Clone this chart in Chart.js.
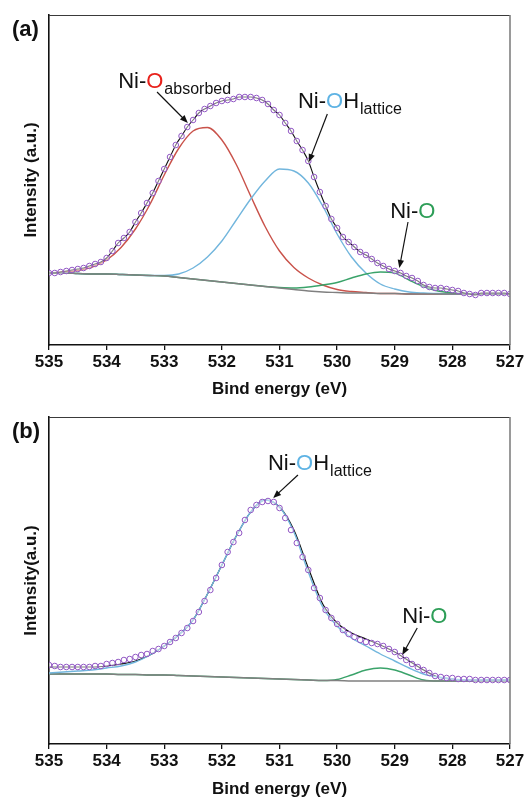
<!DOCTYPE html>
<html>
<head>
<meta charset="utf-8">
<script src="https://cdn.jsdelivr.net/npm/chart.js@4.4.0/dist/chart.umd.min.js"></script>
<style>
  html, body { margin: 0; padding: 0; background: #fff; }
  canvas { display: block; }
</style>
</head>
<body>
<canvas id="xpsA" width="530" height="400"></canvas>
<canvas id="xpsB" width="530" height="405"></canvas>
<script>
// binding energy grids (eV)
const energyTicks = [535, 534, 533, 532, 531, 530, 529, 528, 527];
const energyFine = [535.0, 534.9, 534.8, 534.7, 534.6, 534.5, 534.4, 534.3, 534.2, 534.1,
  534.0, 533.9, 533.8, 533.7, 533.6, 533.5, 533.4, 533.3, 533.2, 533.1,
  533.0, 532.9, 532.8, 532.7, 532.6, 532.5, 532.4, 532.3, 532.2, 532.1,
  532.0, 531.9, 531.8, 531.7, 531.6, 531.5, 531.4, 531.3, 531.2, 531.1,
  531.0, 530.9, 530.8, 530.7, 530.6, 530.5, 530.4, 530.3, 530.2, 530.1,
  530.0, 529.9, 529.8, 529.7, 529.6, 529.5, 529.4, 529.3, 529.2, 529.1,
  529.0, 528.9, 528.8, 528.7, 528.6, 528.5, 528.4, 528.3, 528.2, 528.1,
  528.0, 527.9, 527.8, 527.7, 527.6, 527.5, 527.4, 527.3, 527.2, 527.1,
  527.0];
const energyCoarse = [535, 534.75, 534.5, 534.25, 534, 533.75, 533.5, 533.25, 533, 532.75,
  532.5, 532.25, 532, 531.75, 531.5, 531.25, 531, 530.75, 530.5, 530.25,
  530, 529.75, 529.5, 529.25, 529, 528.75, 528.5, 528.25, 528, 527.75,
  527.5, 527.25, 527];

// (a) measured points and fitted components (arbitrary units)
const measuredA = [72, 72, 73, 74, 75, 76, 77, 79, 81, 83,
  87, 94, 102, 107, 113, 123, 132, 142, 152, 164,
  176, 188, 200, 209, 218, 225, 232, 236, 239, 242,
  244, 245, 246, 248, 248, 248, 247, 245, 241, 235,
  230, 222, 214, 204, 195, 184, 168, 153, 139, 126,
  117, 108, 103, 98, 93, 90, 86, 82, 79, 76,
  74, 72, 69, 67, 64, 60, 58, 57, 57, 56,
  55, 54, 52, 51, 50, 52, 52, 52, 52, 52,
  51];
const backgroundA = [72, 72, 71.5, 71, 71, 70.5, 70, 69.5, 69, 67.5,
  66, 64.5, 63, 61.5, 60, 58.5, 57, 55.5, 54, 53,
  52.5, 52, 52, 51.5, 51.5, 51, 51, 51, 51, 51,
  51, 51, 51];
const absorbedA = [72, 73, 74.5, 78, 85, 97.5, 116, 140.5, 170, 196.5,
  214, 217.5, 205, 180.5, 149, 118.5, 94, 77.5, 67, 60,
  55.5, 53.5, 52.5, 51.5, 51.5, 51, 51, 51, 51, 51,
  51, 51, 51];
const latticeA = [72, 72, 71.5, 71, 71, 70.5, 70, 69.5, 69.5, 71,
  77, 88, 104, 125, 146, 164, 176, 174, 162, 139,
  111, 88, 72, 61, 56, 53, 52, 51.5, 51, 51,
  51, 51, 51];
const oxideA = [72, 72, 71.5, 71, 71, 70.5, 70, 69.5, 69, 67.5,
  66, 64.5, 63, 61.5, 60, 58.5, 57.5, 57, 58, 60,
  62.5, 67, 71, 73, 72, 65, 58.5, 54, 52, 51.5,
  51, 51, 51];

// (b) measured points and fitted components (arbitrary units)
const measuredB = [79, 78, 77, 77, 77, 77, 77, 77, 78, 78,
  80, 81, 82, 84, 85, 87, 89, 90, 93, 95,
  98, 102, 106, 111, 116, 123, 132, 143, 154, 166,
  179, 192, 202, 211, 224, 234, 239, 242, 243, 242,
  236, 226, 214, 201, 187, 174, 156, 146, 134, 126,
  120, 114, 110, 107, 104, 102, 101, 100, 98, 95,
  92, 88, 84, 80, 77, 74, 71, 68, 67, 66,
  66, 65, 65, 65, 64, 64, 64, 64, 64, 64,
  64];
const envelopeB = [77, 77, 77, 77, 78, 80, 83, 89, 98, 109,
  124, 150, 179, 208, 232, 244, 237, 214, 176, 140,
  121, 111, 105, 99, 92, 83, 74, 67, 65, 64,
  64, 64, 64];
const backgroundB = [70, 70, 70, 70, 70, 69.5, 69.5, 69, 69, 68.5,
  68, 67.5, 67, 66.5, 66, 65.5, 65, 64.5, 64, 63.5,
  63.5, 63, 63, 63, 63, 63, 63, 63, 63, 63,
  63, 63, 63];
const latticeB = [71, 72, 73, 74, 76, 78, 82, 89, 98, 109,
  124, 150, 179, 208, 232, 244, 237, 212, 172, 137,
  118, 106, 98, 90, 83, 76, 70, 67, 65, 64,
  64, 64, 64];
const oxideB = [70, 70, 70, 70, 70, 69.5, 69.5, 69, 69, 68.5,
  68, 67.5, 67, 66.5, 66, 65.5, 65, 64.5, 64, 63.5,
  64.5, 69, 74, 76, 74, 69, 64, 63, 63, 63,
  63, 63, 63];

const FONT = '"Liberation Sans", Arial, sans-serif';

function pts(xs, ys) {
  return xs.map((x, i) => ({ x: x, y: ys[i] }));
}

function lineSet(xs, ys, color, width) {
  return {
    data: pts(xs, ys),
    borderColor: color,
    borderWidth: width,
    pointRadius: 0,
    cubicInterpolationMode: 'monotone',
    fill: false
  };
}

function dotSet(xs, ys) {
  return {
    data: pts(xs, ys),
    showLine: false,
    pointRadius: 2.8,
    pointBorderWidth: 1,
    pointBorderColor: '#9157c4',
    pointBackgroundColor: 'rgba(255,255,255,0.45)'
  };
}

// arrows + labels, frame top/right, panel letter
function notesPlugin(letter, notes) {
  return {
    id: 'notes',
    afterDatasetsDraw(chart) {
      const { ctx, chartArea: a, scales: { x, y } } = chart;
      ctx.save();
      ctx.lineWidth = 1.2;
      ctx.strokeStyle = '#3a3a3a';
      ctx.beginPath();
      ctx.moveTo(a.left, a.top + 0.5);
      ctx.lineTo(a.right, a.top + 0.5);
      ctx.stroke();
      ctx.lineWidth = 1.6;
      ctx.strokeStyle = '#808080';
      ctx.beginPath();
      ctx.moveTo(a.right, a.top);
      ctx.lineTo(a.right, a.bottom);
      ctx.stroke();

      ctx.fillStyle = '#111';
      ctx.font = 'bold 22px ' + FONT;
      ctx.textBaseline = 'middle';
      ctx.textAlign = 'left';
      ctx.fillText(letter, 12, a.top + 15);

      ctx.textBaseline = 'alphabetic';
      notes.forEach(n => {
        let px = x.getPixelForValue(n.at[0]);
        const py = y.getPixelForValue(n.at[1]);
        ctx.font = '22px ' + FONT;
        n.parts.forEach(p => {
          ctx.fillStyle = p[1];
          ctx.fillText(p[0], px, py);
          px += ctx.measureText(p[0]).width;
        });
        if (n.sub) {
          ctx.font = '16px ' + FONT;
          ctx.fillStyle = '#111';
          ctx.fillText(n.sub, px + 1, py + 6);
        }
        const x0 = x.getPixelForValue(n.from[0]), y0 = y.getPixelForValue(n.from[1]);
        const x1 = x.getPixelForValue(n.to[0]), y1 = y.getPixelForValue(n.to[1]);
        const ang = Math.atan2(y1 - y0, x1 - x0);
        const c = Math.cos(ang), s = Math.sin(ang);
        ctx.strokeStyle = '#111';
        ctx.lineWidth = 1.2;
        ctx.beginPath();
        ctx.moveTo(x0, y0);
        ctx.lineTo(x1 - 6 * c, y1 - 6 * s);
        ctx.stroke();
        ctx.fillStyle = '#111';
        ctx.beginPath();
        ctx.moveTo(x1, y1);
        ctx.lineTo(x1 - 8 * c + 3.2 * s, y1 - 8 * s - 3.2 * c);
        ctx.lineTo(x1 - 8 * c - 3.2 * s, y1 - 8 * s + 3.2 * c);
        ctx.closePath();
        ctx.fill();
      });
      ctx.restore();
    }
  };
}

function makeChart(id, datasets, yMax, yTitle, padTop, xHeight, titlePad, plugin) {
  const axisFont = { family: FONT, size: 17, weight: 'bold' };
  return new Chart(document.getElementById(id).getContext('2d'), {
    type: 'line',
    data: { datasets: datasets },
    options: {
      responsive: false,
      animation: false,
      layout: { padding: { top: padTop, right: 20, left: 0, bottom: 0 } },
      plugins: { legend: { display: false }, tooltip: { enabled: false } },
      scales: {
        x: {
          type: 'linear',
          min: 527,
          max: 535,
          reverse: true,
          afterFit: s => { s.height = xHeight; },
          afterBuildTicks: s => { s.ticks = energyTicks.map(v => ({ value: v })); },
          ticks: { color: '#111', font: axisFont, padding: 2, maxRotation: 0, autoSkip: false },
          grid: { display: true, drawOnChartArea: false, drawTicks: true, tickLength: 5, color: '#111', lineWidth: 1.3 },
          border: { display: true, color: '#111', width: 1.6 },
          title: { display: true, text: 'Bind energy (eV)', color: '#111', font: axisFont, padding: { top: 0, bottom: titlePad } }
        },
        y: {
          min: 0,
          max: yMax,
          afterFit: s => { s.width = 49; },
          ticks: { display: false },
          grid: { display: false },
          border: { display: true, color: '#111', width: 1.6 },
          title: { display: true, text: yTitle, color: '#111', font: axisFont, padding: { top: 21, bottom: 0 } }
        }
      }
    },
    plugins: [plugin]
  });
}

makeChart('xpsA', [
  dotSet(energyFine, measuredA),
  lineSet(energyFine, measuredA, '#111', 1.1),
  lineSet(energyCoarse, backgroundA, '#808080', 1.4),
  lineSet(energyCoarse, oxideA, '#3aa36a', 1.4),
  lineSet(energyCoarse, latticeA, '#72b6dd', 1.4),
  lineSet(energyCoarse, absorbedA, '#c9524a', 1.4)
], 330, 'Intensity (a.u.)', 15, 55, 0, notesPlugin('(a)', [
  { at: [533.80, 257], parts: [['Ni-', '#111'], ['O', '#e8221c']], sub: 'absorbed', from: [533.125, 253], to: [532.59, 222] },
  { at: [530.68, 237], parts: [['Ni-', '#111'], ['O', '#5eb3e4'], ['H', '#111']], sub: 'lattice', from: [530.17, 231], to: [530.49, 183] },
  { at: [529.08, 127], parts: [['Ni-', '#111'], ['O', '#2e9e58']], from: [528.77, 123], to: [528.92, 77] }
]));

makeChart('xpsB', [
  dotSet(energyFine, measuredB),
  lineSet(energyCoarse, latticeB, '#72b6dd', 1.4),
  lineSet(energyCoarse, envelopeB, '#111', 1.2),
  lineSet(energyCoarse, backgroundB, '#808080', 1.4),
  lineSet(energyCoarse, oxideB, '#3aa36a', 1.4)
], 327, 'Intensity(a.u.)', 17, 61, 5, notesPlugin('(b)', [
  { at: [531.20, 274], parts: [['Ni-', '#111'], ['O', '#5eb3e4'], ['H', '#111']], sub: 'lattice', from: [530.68, 269], to: [531.11, 246] },
  { at: [528.87, 121], parts: [['Ni-', '#111'], ['O', '#2e9e58']], from: [528.61, 116], to: [528.87, 89] }
]));
</script>
</body>
</html>
